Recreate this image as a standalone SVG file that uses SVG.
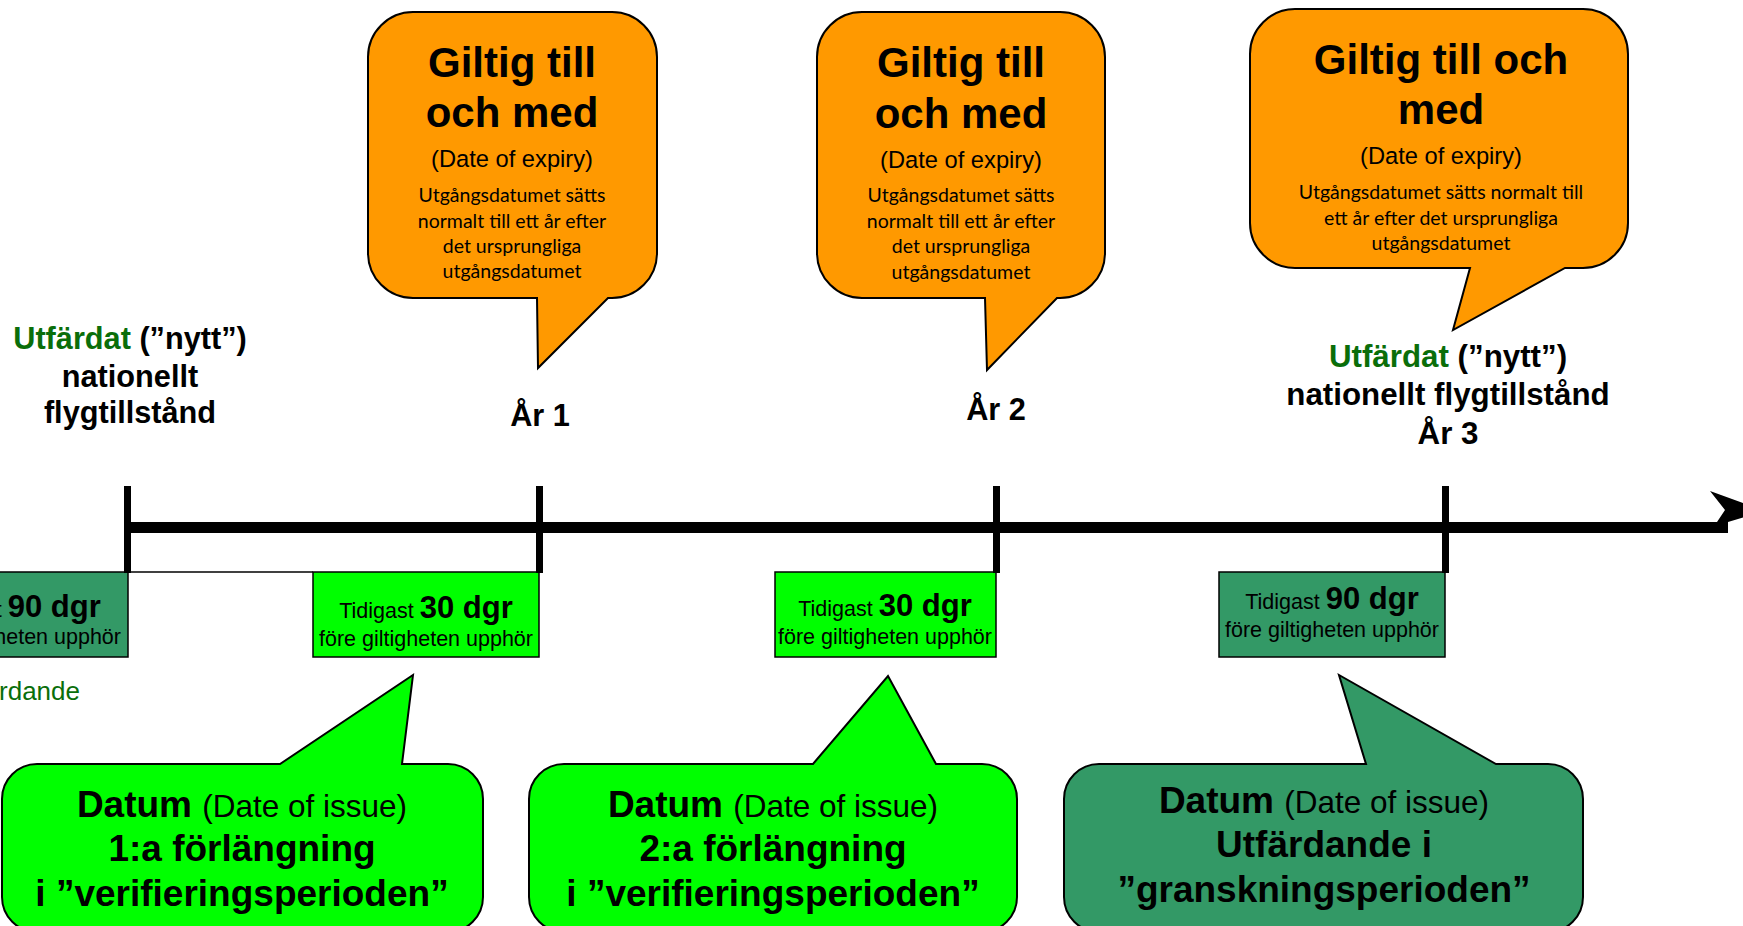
<svg xmlns="http://www.w3.org/2000/svg" width="1743" height="926" viewBox="0 0 1743 926">
<style>
.bg{fill:#fff}
.orange{fill:#FF9900;stroke:#000;stroke-width:2}
.lime{fill:#00FF00;stroke:#000;stroke-width:1.5}
.dk{fill:#339966;stroke:#000;stroke-width:1.5}
.cl{stroke:#000;stroke-width:2}
.ttl{font-family:'Liberation Sans',Arial,sans-serif;font-weight:bold;font-size:42px;text-anchor:middle;fill:#000}
.sub{font-family:'Liberation Sans',Arial,sans-serif;font-size:23.7px;text-anchor:middle;fill:#000}
.sm{font-family:Lato,'Liberation Sans',sans-serif;font-size:19.5px;text-anchor:middle;fill:#000}
.lbl{font-family:'Liberation Sans',Arial,sans-serif;font-weight:bold;font-size:30.7px;text-anchor:middle;fill:#000}
.g{fill:#0A6E0A}
.bt{font-family:'Liberation Sans',Arial,sans-serif;font-size:21.5px;text-anchor:middle;fill:#000}
.bb{font-weight:bold;font-size:31px}
.ct{font-family:'Liberation Sans',Arial,sans-serif;font-weight:bold;font-size:37px;text-anchor:middle;fill:#000}
.r{font-weight:normal;font-size:31.5px}
.gt{font-family:'Liberation Sans',Arial,sans-serif;font-size:26px;fill:#0A6E0A}
</style>
<rect class="bg" x="0" y="0" width="1743" height="926"/>

<g id="expiry1">
<path class="orange" d="M413,12 H612 A45,45 0 0 1 657,57 V253 A45,45 0 0 1 612,298 H608 L538,368 L537,298 H413 A45,45 0 0 1 368,253 V57 A45,45 0 0 1 413,12 Z"/>
<text class="ttl" x="512" y="77">Giltig till</text>
<text class="ttl" x="512" y="127">och med</text>
<text class="sub" x="512" y="167">(Date of expiry)</text>
<text class="sm" x="512" y="202">Utgångsdatumet sätts</text>
<text class="sm" x="512" y="227.5">normalt till ett år efter</text>
<text class="sm" x="512" y="253">det ursprungliga</text>
<text class="sm" x="512" y="278">utgångsdatumet</text>
</g>

<g id="expiry2">
<path class="orange" d="M862,12 H1060 A45,45 0 0 1 1105,57 V253 A45,45 0 0 1 1060,298 H1057 L987,370 L985,298 H862 A45,45 0 0 1 817,253 V57 A45,45 0 0 1 862,12 Z"/>
<text class="ttl" x="961" y="77">Giltig till</text>
<text class="ttl" x="961" y="128">och med</text>
<text class="sub" x="961" y="168">(Date of expiry)</text>
<text class="sm" x="961" y="202">Utgångsdatumet sätts</text>
<text class="sm" x="961" y="228">normalt till ett år efter</text>
<text class="sm" x="961" y="253">det ursprungliga</text>
<text class="sm" x="961" y="279">utgångsdatumet</text>
</g>

<g id="expiry3">
<path class="orange" d="M1295,9 H1583 A45,45 0 0 1 1628,54 V223 A45,45 0 0 1 1583,268 H1565 L1453,330 L1470,268 H1295 A45,45 0 0 1 1250,223 V54 A45,45 0 0 1 1295,9 Z"/>
<text class="ttl" x="1441" y="74">Giltig till och</text>
<text class="ttl" x="1441" y="124">med</text>
<text class="sub" x="1441" y="164">(Date of expiry)</text>
<text class="sm" x="1441" y="199">Utgångsdatumet sätts normalt till</text>
<text class="sm" x="1441" y="225">ett år efter det ursprungliga</text>
<text class="sm" x="1441" y="250">utgångsdatumet</text>
</g>

<g id="label-issued">
<text class="lbl" x="130" y="349"><tspan class="g">Utfärdat</tspan> (”nytt”)</text>
<text class="lbl" x="130" y="387">nationellt</text>
<text class="lbl" x="130" y="423">flygtillstånd</text>
</g>
<g id="label-year1"><text class="lbl" x="540" y="426">År 1</text></g>
<g id="label-year2"><text class="lbl" x="996" y="420">År 2</text></g>
<g id="label-year3">
<text class="lbl" x="1448" y="367" style="font-size:31.3px"><tspan class="g">Utfärdat</tspan> (”nytt”)</text>
<text class="lbl" x="1448" y="405" style="font-size:31.3px">nationellt flygtillstånd</text>
<text class="lbl" x="1448" y="444" style="font-size:31.3px">År 3</text>
</g>

<g id="boxA">
<rect class="dk" x="-100" y="572" width="228" height="85"/>
<text class="bt" x="14" y="617">Tidigast <tspan class="bb">90 dgr</tspan></text>
<text class="bt" x="14" y="644">före giltigheten upphör</text>
</g>
<g id="boxB">
<rect class="lime" x="313" y="572" width="226" height="85"/>
<text class="bt" x="426" y="618">Tidigast <tspan class="bb">30 dgr</tspan></text>
<text class="bt" x="426" y="646">före giltigheten upphör</text>
</g>
<g id="boxC">
<rect class="lime" x="775" y="572" width="221" height="85"/>
<text class="bt" x="885" y="616">Tidigast <tspan class="bb">30 dgr</tspan></text>
<text class="bt" x="885" y="644">före giltigheten upphör</text>
</g>
<g id="boxD">
<rect class="dk" x="1219" y="572" width="226" height="85"/>
<text class="bt" x="1332" y="609">Tidigast <tspan class="bb">90 dgr</tspan></text>
<text class="bt" x="1332" y="637">före giltigheten upphör</text>
</g>

<g id="label-issue">
<text class="gt" x="80" y="700" text-anchor="end">Utfärdande</text>
</g>

<g id="issue1">
<path class="lime cl" d="M37,764 H280 L413,675 L402,764 H448 A35,35 0 0 1 483,799 V897 A35,35 0 0 1 448,932 H37 A35,35 0 0 1 2,897 V799 A35,35 0 0 1 37,764 Z"/>
<text class="ct" x="242" y="817">Datum <tspan class="r">(Date of issue)</tspan></text>
<text class="ct" x="242" y="861">1:a förlängning</text>
<text class="ct" x="242" y="906">i ”verifieringsperioden”</text>
</g>
<g id="issue2">
<path class="lime cl" d="M564,764 H813 L888,676 L936,764 H982 A35,35 0 0 1 1017,799 V897 A35,35 0 0 1 982,932 H564 A35,35 0 0 1 529,897 V799 A35,35 0 0 1 564,764 Z"/>
<text class="ct" x="773" y="817">Datum <tspan class="r">(Date of issue)</tspan></text>
<text class="ct" x="773" y="861">2:a förlängning</text>
<text class="ct" x="773" y="906">i ”verifieringsperioden”</text>
</g>
<g id="issue3">
<path class="dk cl" d="M1099,764 H1366 L1339,675 L1496,764 H1548 A35,35 0 0 1 1583,799 V897 A35,35 0 0 1 1548,932 H1099 A35,35 0 0 1 1064,897 V799 A35,35 0 0 1 1099,764 Z"/>
<text class="ct" x="1324" y="813">Datum <tspan class="r">(Date of issue)</tspan></text>
<text class="ct" x="1324" y="857">Utfärdande i</text>
<text class="ct" x="1324" y="902">”granskningsperioden”</text>
</g>

<g id="connectors">
<line x1="128" y1="572" x2="313" y2="572" stroke="#000" stroke-width="1.5"/>
<rect x="125" y="522" width="1603" height="11" fill="#000"/>
<polygon points="1710,491 1765,511 1728,522 1717,522 1725,510" fill="#000"/>
<rect x="124" y="486" width="7" height="87" fill="#000"/>
<rect x="536" y="486" width="7" height="87" fill="#000"/>
<rect x="993" y="486" width="7" height="87" fill="#000"/>
<rect x="1442" y="486" width="7" height="87" fill="#000"/>
</g>
</svg>
